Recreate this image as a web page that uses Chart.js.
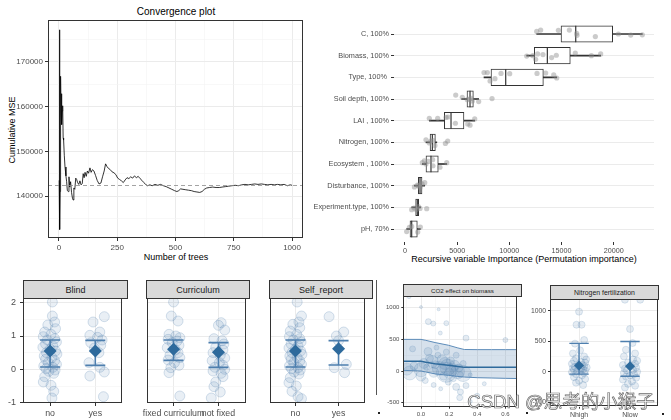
<!DOCTYPE html>
<html><head><meta charset="utf-8">
<script src="https://cdn.jsdelivr.net/npm/chart.js@4.4.1/dist/chart.umd.min.js"></script>
<style>
html,body{margin:0;padding:0;background:#fff;}
#wrap{position:relative;width:671px;height:420px;overflow:hidden;font-family:'Liberation Sans',Arial,sans-serif;background:#fff;}
canvas{position:absolute;}
.t{position:absolute;transform:translate(-50%,-50%);white-space:nowrap;color:#000;}
.strip{position:absolute;box-sizing:border-box;background:#D9D9D9;border:1px solid #333;color:#1A1A1A;display:flex;align-items:center;justify-content:center;white-space:nowrap;}
.dot{position:absolute;width:2px;height:2px;background:#222;}
</style></head><body><div id="wrap">
<div class="t" style="left:176px;top:11px;font-size:10px;">Convergence plot</div>
<div class="t" style="left:12px;top:130px;font-size:9px;transform:translate(-50%,-50%) rotate(-90deg);">Cumulative MSE</div>
<div class="t" style="left:176px;top:257px;font-size:9px;">Number of trees</div>
<div class="t" style="left:524px;top:259px;font-size:9px;">Recursive variable Importance (Permutation importance)</div>
<div class="strip" style="left:23px;top:280px;width:105px;height:19px;font-size:9px;">Blind</div>
<div class="strip" style="left:146px;top:280px;width:104px;height:19px;font-size:9px;">Curriculum</div>
<div class="strip" style="left:269px;top:280px;width:104px;height:19px;font-size:9px;">Self_report</div>
<div class="strip" style="left:403px;top:284px;width:119px;height:13px;font-size:6.2px;">CO2 effect on biomass</div>
<div class="strip" style="left:550px;top:285px;width:109px;height:15px;font-size:6.9px;">Nitrogen fertilization</div>
<div style="position:absolute;left:376px;top:280px;width:1px;height:115px;background:#555;"></div>
<div class="dot" style="left:378px;top:412px;"></div>
<div class="dot" style="left:526px;top:412px;"></div>
<div class="dot" style="left:662px;top:413px;"></div>
</div>
<script>
// ---------------- DATA ----------------
const treesX = [1,2,3,4,5,6,7,8,9,10,11,12,13,14,16,18,20,23,26,30,33,36,40,43,46,50,54,58,61,64,68,72,76,80,85,90,95,100,104,108,112,117,122,127,133,138,144,150,157,164,172,180,187,194,200,206,212,220,228,236,244,252,260,268,276,284,292,300,308,316,324,332,340,348,356,364,372,380,390,400,412,424,436,448,460,472,484,496,506,514,522,532,544,556,568,580,592,604,614,624,634,646,660,674,688,700,714,728,742,756,770,784,798,812,826,840,854,868,882,896,910,924,938,952,966,980,992,1000];
const mseY = [143500,177200,150000,132500,141000,158000,150500,166800,158500,162900,157500,160600,156000,159000,160200,153000,152500,149000,146500,144500,143200,141200,141000,144300,142000,143200,140800,139500,139100,141800,141500,144000,143700,143000,142600,143400,142500,142800,145000,144100,145300,144400,145600,145100,146300,145300,145900,145600,144600,143500,142700,142900,144300,145600,147200,146600,146200,145900,145400,145200,144800,144000,143700,143400,143000,143600,144100,143900,144300,144000,144500,144100,144400,143900,143500,143000,142600,142300,142500,142300,142600,142400,142600,142300,142100,141800,141500,141200,141000,141200,141600,141500,141400,141300,141200,141000,140900,140800,141000,141500,141800,141900,142000,141900,141900,142000,142100,142200,142300,142400,142300,142500,142600,142500,142600,142700,142600,142700,142600,142500,142600,142500,142600,142500,142600,142300,142500,142400];
const mseRef = 142400;
const convXTicks = [0,125,250,375,500,625,750,875,1000];
const convYTicks = [135000,140000,145000,150000,155000,160000,165000,170000,175000];

const impVars = ['C, 100%','Biomass, 100%','Type, 100% ','Soil depth, 100%','LAI , 100%','Nitrogen, 100%','Ecosystem , 100%','Disturbance, 100%','Experiment.type, 100%','pH, 70%'];
const impQ1  = [14950,12390,8240,5940,3770,2400,2010,1280,1020,480];
const impMed = [16360,13640,9650,6230,4410,2620,2490,1440,1180,640];
const impQ3  = [19900,15840,13260,6550,5650,2910,3190,1630,1310,1180];
const impLo  = [12620,11660,7570,5430,2330,2010,1660,900,640,160];
const impHi  = [22740,18750,14540,7060,6680,3050,4000,1890,1500,1470];
const impPts = [
  [12620,13000,14700,15750,16450,16480,18240,20450,21630,22740],
  [11660,12250,12520,12710,13220,14050,14500,16320,17860,18750],
  [7570,7890,8150,8620,9200,10030,12650,13480,14250,14540],
  [4860,5490,5970,6160,6350,6450,7060,8340],
  [2330,3130,3930,4120,4830,6010,6230,6680],
  [2010,2330,2460,2720,2870,3870,4090],
  [1660,1850,2010,2240,2650,2680,3350,4000],
  [900,1190,1280,1440,1630,1890],
  [640,870,1090,1280,1440,2080],
  [160,420,640,1220,1470]
];
const impJit = [
  [-0.12,-0.18,-0.17,-0.18,-0.03,0.06,0.12,0.0,0.05,0.04],
  [0.02,0.0,0.17,-0.08,-0.05,0.09,-0.02,-0.12,0.0,-0.08],
  [-0.22,-0.22,0.17,0.06,-0.18,-0.17,-0.18,-0.2,-0.11,0.03],
  [-0.18,-0.08,0.03,0.0,-0.03,0.09,0.12,-0.02],
  [-0.11,-0.11,-0.15,-0.17,0.12,0.15,0.21,-0.08],
  [-0.12,0.03,-0.06,-0.08,0.15,0.05,-0.06],
  [-0.06,-0.15,0.0,-0.12,-0.2,0.08,0.15,-0.06],
  [0.06,-0.03,0.0,0.08,-0.08,-0.14],
  [0.11,0.03,0.11,-0.03,0.05,0.06],
  [0.12,-0.08,-0.12,0.14,-0.09]
];
const impXTicks = [0,5000,10000,15000,20000];

const facetYTicks = [-1,-0.5,0,0.5,1,1.5,2];
const blindCats = ['no','yes'];
const blindNo  = [2.02,1.6,1.42,1.33,1.22,1.12,1.05,0.98,0.92,0.88,0.82,0.76,0.7,0.66,0.6,0.55,0.5,0.46,0.4,0.35,0.3,0.26,0.2,0.15,0.1,0.06,0.02,-0.02,-0.06,-0.12,-0.22,-0.38,-0.48,-0.66,-0.86];
const blindNoJ = [0.05,0.05,0.1,-0.05,0.12,-0.12,0.02,-0.15,0.1,-0.06,0.14,-0.1,0.06,-0.16,0.0,0.12,-0.08,0.15,-0.13,0.04,-0.1,0.1,-0.04,0.14,-0.14,0.06,-0.09,0.11,-0.03,0.08,-0.12,-0.15,0.02,0.08,0.04];
const blindYes  = [1.58,1.42,1.12,1.02,0.96,0.88,0.8,0.72,0.64,0.5,0.2,0.06,-0.08,-0.2,-0.82];
const blindYesJ = [0.2,-0.05,0.1,-0.12,0.05,0.15,-0.1,0.12,-0.02,0.08,-0.14,0.1,0.2,-0.12,0.18];
const blindMean = [0.55,0.55], blindLo = [0.07,0.12], blindHi = [0.88,0.87];

const currCats = ['fixed curriculum','not fixed'];
const currFixed  = [2.02,1.6,1.45,1.05,1.0,0.95,0.9,0.85,0.8,0.72,0.65,0.58,0.5,0.42,0.35,0.28,0.2,0.12,0.05,-0.1,-0.8];
const currFixedJ = [0.0,-0.05,0.1,-0.1,0.05,0.14,-0.12,0.08,-0.03,0.12,-0.14,0.04,0.1,-0.08,0.14,-0.12,0.02,0.12,-0.06,-0.1,0.14];
const currNot  = [1.4,1.32,1.18,0.92,0.86,0.76,0.66,0.58,0.5,0.42,0.34,0.26,0.2,0.12,0.06,0.0,-0.05,-0.12,-0.22,-0.38,-0.52,-0.68,-0.86];
const currNotJ = [0.06,0.0,0.14,-0.1,0.08,0.12,-0.06,0.1,-0.12,0.04,0.14,-0.14,0.02,0.1,-0.08,0.14,-0.12,0.06,0.1,-0.06,-0.1,0.04,-0.16];
const currMean = [0.6,0.51], currLo = [0.27,0.06], currHi = [0.88,0.8];

const selfCats = ['no','yes'];
const selfNo  = [2.02,1.6,1.42,1.35,1.25,1.15,1.05,0.98,0.92,0.88,0.82,0.76,0.7,0.64,0.6,0.55,0.5,0.45,0.4,0.35,0.3,0.25,0.2,0.15,0.1,0.05,0.02,-0.02,-0.08,-0.14,-0.25,-0.4,-0.5,-0.66,-0.82,-0.88];
const selfNoJ = [0.04,0.14,0.08,-0.06,0.1,-0.12,0.03,-0.14,0.1,-0.05,0.13,-0.1,0.06,-0.15,0.0,0.12,-0.08,0.15,-0.13,0.04,-0.1,0.1,-0.04,0.14,-0.14,0.06,-0.09,0.11,-0.03,0.08,-0.12,-0.15,0.02,-0.08,0.06,0.14];
const selfYes  = [1.58,1.12,1.0,0.86,0.15,0.05,-0.1];
const selfYesJ = [-0.22,0.12,-0.05,0.0,0.18,-0.1,0.14];
const selfMean = [0.55,0.62], selfLo = [0.07,0.13], selfHi = [0.88,0.86];

const co2BandX = [-0.126,0.0,0.034,0.1,0.194,0.262,0.308,0.4,0.5,0.6,0.684];
const co2Upper = [500,500,485,450,408,365,340,338,338,338,338];
const co2Mid   = [154,154,140,117,90,70,58,58,58,58,58];
const co2Lower = [11,0,-15,-45,-68,-85,-95,-105,-110,-115,-118];
const co2PX = [-0.085,0.0,0.125,0.052,0.087,0.18,0.137,0.32,0.6,-0.1,-0.05,0.0,0.02,0.04,0.06,0.08,0.09,0.1,0.12,0.13,0.15,0.16,0.17,0.18,0.19,0.2,0.21,0.22,0.23,0.24,0.25,0.26,0.27,0.28,0.3,0.35,0.194,0.32,0.4,0.275,0.03,0.09,0.25,-0.06,0.11,0.28,0.45,0.05,0.0,0.14,0.3,0.18,-0.08,0.35];
const co2PY = [1175,1010,975,780,750,756,600,520,490,30,80,20,120,60,200,150,-20,100,250,40,180,-80,120,300,60,-40,160,20,-120,90,250,-10,50,-60,120,-60,-175,-230,-390,-420,-150,-220,-250,350,370,-330,-200,310,-80,-280,-40,-20,-30,-480];
const co2PR = [2,1.5,1.5,3,2.5,2.5,2,3,2.5,6,4,7,5,3,4,6,5,4,3,7,5,4,6,3,8,5,4,6,3,5,3,7,4,3,3,2,3,3,2.5,3,3,2.5,3.5,3,2.5,3,2,4,5,2,8,10,7,2];
const co2XTicks = [-0.1,0,0.1,0.2,0.3,0.4,0.5,0.6];
const co2YTicks = [-500,-250,0,250,500,750,1000];

const nitroCats = ['Nhigh','Nlow'];
const nHigh  = [984,770,770,520,460,350,300,250,220,200,180,160,150,130,110,100,90,80,70,60,50,40,30,20,10,0,-10,-20,-40,-60,-90,-120,-150,-180,-220];
const nHighJ = [0.0,-0.05,0.05,0.1,-0.08,0.02,-0.12,0.1,-0.06,0.14,-0.1,0.04,0.12,-0.14,0.06,-0.02,0.1,-0.08,0.15,-0.12,0.04,0.08,-0.1,0.12,-0.04,0.02,-0.14,0.1,-0.06,0.06,-0.1,0.12,0.0,-0.06,0.08];
const nLow  = [1180,1180,700,470,360,300,250,200,180,150,130,110,90,70,50,30,20,0,-20,-40,-60,-80,-100,-130,-160,-200,-230,-260];
const nLowJ = [-0.1,0.2,0.0,0.05,-0.08,0.1,-0.12,0.06,0.14,-0.04,0.1,-0.14,0.02,0.12,-0.1,0.06,-0.06,0.14,-0.12,0.08,0.0,-0.08,0.12,-0.14,0.04,-0.04,0.1,-0.1];
const nMean = [100,90], nLo = [-40,-75], nHi = [465,495];
const nitroYTicks = [-500,-250,0,250,500,750,1000];

// ---------------- SETUP ----------------
Chart.defaults.font.family = "'Liberation Sans', Arial, sans-serif";
Chart.defaults.color = '#4D4D4D';
Chart.defaults.animation = false;
Chart.defaults.plugins.legend.display = false;
Chart.defaults.plugins.tooltip.enabled = false;

Chart.register({
  id: 'frame',
  afterDraw(chart, args, opts) {
    if (!opts || !opts.color) return;
    const a = chart.chartArea, ctx = chart.ctx;
    ctx.save(); ctx.strokeStyle = opts.color; ctx.lineWidth = 1;
    ctx.strokeRect(Math.round(a.left) + 0.5, Math.round(a.top) + 0.5, Math.round(a.right - a.left) - 1, Math.round(a.bottom - a.top) - 1);
    ctx.restore();
  }
});
Chart.register({
  id: 'refline',
  afterDatasetsDraw(chart, args, opts) {
    if (!opts || opts.value == null) return;
    const a = chart.chartArea, ctx = chart.ctx;
    const y = Math.round(chart.scales.y.getPixelForValue(opts.value)) + 0.5;
    ctx.save(); ctx.strokeStyle = '#8C8C8C'; ctx.lineWidth = 0.8; ctx.setLineDash([4, 3]);
    ctx.beginPath(); ctx.moveTo(a.left, y); ctx.lineTo(a.right, y); ctx.stroke(); ctx.restore();
  }
});

const wrap = document.getElementById('wrap');
function mk(left, top, w, h) {
  const c = document.createElement('canvas');
  c.width = w; c.height = h;
  c.style.left = left + 'px'; c.style.top = top + 'px';
  c.style.width = w + 'px'; c.style.height = h + 'px';
  wrap.appendChild(c);
  return c;
}
function fitX(h) { return s => { s.height = h; s.paddingLeft = 0; s.paddingRight = 0; }; }
function fitY(w) { return s => { s.width = w; s.paddingTop = 0; s.paddingBottom = 0; }; }
function setTicks(arr) { return s => { s.ticks = arr.map(v => ({ value: v })); }; }

// ---------------- CONVERGENCE ----------------
(function () {
  const cl = 0, ct = 0, W = 305, H = 270;
  const L = 48, T = 20, R = 303, B = 238;
  const isMajX = v => v % 250 === 0, isMajY = v => v % 10000 === 0;
  new Chart(mk(cl, ct, W, H), {
    type: 'scatter',
    data: { datasets: [{
      type: 'line', data: treesX.map((x, i) => ({ x, y: mseY[i] })),
      borderColor: '#000', borderWidth: 0.8, pointRadius: 0, tension: 0
    }] },
    options: {
      responsive: false, devicePixelRatio: 1,
      layout: { padding: { left: 0, top: T - ct, right: W - (R - cl), bottom: 0 } },
      plugins: { frame: { color: '#333' }, refline: { value: mseRef } },
      scales: {
        x: { type: 'linear', min: -47, max: 1047, afterBuildTicks: setTicks(convXTicks), afterFit: fitX(H - (B - ct)),
          border: { display: false },
          grid: { color: c => isMajX(c.tick.value) ? '#EBEBEB' : '#F4F4F4', lineWidth: c => isMajX(c.tick.value) ? 1 : 0.6,
                  tickColor: c => isMajX(c.tick.value) ? '#333' : 'rgba(0,0,0,0)', tickLength: 3 },
          ticks: { autoSkip: false, maxRotation: 0, padding: 2, font: { size: 8 }, color: '#4D4D4D', callback: v => isMajX(v) ? String(v) : '' } },
        y: { type: 'linear', min: 130600, max: 179400, afterBuildTicks: setTicks(convYTicks), afterFit: fitY(L - cl),
          border: { display: false },
          grid: { color: c => isMajY(c.tick.value) ? '#EBEBEB' : '#F4F4F4', lineWidth: c => isMajY(c.tick.value) ? 1 : 0.6,
                  tickColor: c => isMajY(c.tick.value) ? '#333' : 'rgba(0,0,0,0)', tickLength: 3 },
          ticks: { autoSkip: false, padding: 2, font: { size: 8 }, color: '#4D4D4D', callback: v => isMajY(v) ? String(v) : '' } }
      }
    }
  });
})();

// ---------------- IMPORTANCE ----------------
(function () {
  const cl = 305, ct = 0, W = 366, H = 270;
  const L = 394, T = 21, R = 654, B = 242;
  const pts = [];
  impPts.forEach((arr, i) => arr.forEach((v, j) => pts.push({ x: v, y: i + impJit[i][j] })));
  new Chart(mk(cl, ct, W, H), {
    type: 'bar',
    data: { datasets: [
      { type: 'scatter', data: pts, pointRadius: 2.6, backgroundColor: 'rgba(140,140,140,0.45)', borderWidth: 0, order: 0 },
      { type: 'scatter', data: impMed.map((m, i) => ({ x: m, y: i })), pointStyle: 'line', rotation: 90, pointRadius: 8.2,
        borderColor: '#333', borderWidth: 1.2, order: 1 },
      { type: 'bar', data: impQ1.map((q, i) => ({ y: i, x: [q, impQ3[i]] })), backgroundColor: '#FFFFFF', borderColor: '#333',
        borderWidth: 1, borderSkipped: false, barThickness: 16.5, grouped: false, order: 2 },
      { type: 'bar', data: impLo.map((q, i) => ({ y: i, x: [q, impHi[i]] })), backgroundColor: '#333', borderWidth: 0,
        barThickness: 1, grouped: false, order: 3 }
    ] },
    options: {
      indexAxis: 'y', responsive: false, devicePixelRatio: 1,
      layout: { padding: { left: 0, top: T - ct, right: W - (R - cl), bottom: 0 } },
      scales: {
        x: { type: 'linear', offset: false, min: -1054, max: 23860, afterBuildTicks: setTicks(impXTicks), afterFit: fitX(H - (B - ct)),
          border: { display: false }, grid: { offset: false, drawOnChartArea: false, tickColor: '#333', tickLength: 3 },
          ticks: { autoSkip: false, maxRotation: 0, padding: 2, font: { size: 7.2 }, color: '#4D4D4D', callback: v => String(v) } },
        y: { type: 'linear', offset: false, reverse: true, min: -0.6, max: 9.6, afterBuildTicks: setTicks(impVars.map((v, i) => i)), afterFit: fitY(L - cl),
          border: { display: false }, grid: { offset: false, color: '#EBEBEB', lineWidth: 1, tickColor: '#333', tickLength: 3 },
          ticks: { autoSkip: false, padding: 2, font: { size: 7.3 }, color: '#4D4D4D', callback: v => impVars[v] } }
      }
    }
  });
})();

// ---------------- FACETS ----------------
function facet(cl, W, L, R, cats, groups, jits, means, los, his, showY) {
  const ct = 276, H = 144, T = 298, B = 403;
  const col = 'rgba(70,120,170,';
  const ds = [];
  groups.forEach((g, k) => {
    ds.push({ type: 'scatter', data: g.map((v, j) => ({ x: k + 1 + jits[k][j], y: v })), pointRadius: 5,
      backgroundColor: col + '0.12)', borderColor: col + '0.22)', borderWidth: 1, order: 4 });
    ds.push({ type: 'line', data: [{ x: k + 1, y: los[k] }, { x: k + 1, y: his[k] }], borderColor: '#4E7FAE', borderWidth: 1.6,
      pointRadius: 0, order: 2 });
  });
  ds.push({ type: 'scatter', data: cats.flatMap((c, k) => [{ x: k + 1, y: los[k] }, { x: k + 1, y: his[k] }]), pointStyle: 'line',
    pointRadius: 10, borderColor: '#4E7FAE', borderWidth: 1.6, order: 1 });
  ds.push({ type: 'scatter', data: means.map((m, k) => ({ x: k + 1, y: m })), pointStyle: 'rectRot', pointRadius: 6.5,
    backgroundColor: '#2E6A9C', borderWidth: 0, order: 0 });
  const isMaj = v => Number.isInteger(v);
  new Chart(mk(cl, ct, W, H), {
    type: 'scatter',
    data: { datasets: ds },
    options: {
      responsive: false, devicePixelRatio: 1,
      layout: { padding: { left: 0, top: T - ct, right: W - (R - cl), bottom: 0 } },
      plugins: { frame: { color: '#333' } },
      scales: {
        x: { type: 'linear', min: 0.4, max: 2.6, afterBuildTicks: setTicks([1, 2]), afterFit: fitX(H - (B - ct)),
          border: { display: false }, grid: { color: '#EBEBEB', tickColor: '#333', tickLength: 3 },
          ticks: { autoSkip: false, maxRotation: 0, padding: 2, font: { size: 8.8 }, color: '#4D4D4D', callback: v => cats[v - 1] } },
        y: { type: 'linear', min: -1.01, max: 2.14, afterBuildTicks: setTicks(facetYTicks), afterFit: fitY(L - cl),
          border: { display: false },
          grid: { color: c => isMaj(c.tick.value) ? '#EBEBEB' : '#F4F4F4', lineWidth: c => isMaj(c.tick.value) ? 1 : 0.6,
                  tickColor: c => (showY && isMaj(c.tick.value)) ? '#333' : 'rgba(0,0,0,0)', tickLength: showY ? 3 : 0, drawTicks: showY },
          ticks: { display: showY, autoSkip: false, padding: 4, font: { size: 9 }, color: '#4D4D4D', callback: v => isMaj(v) ? String(v) : '' } }
      }
    }
  });
}
facet(0, 134, 23, 128, blindCats, [blindNo, blindYes], [blindNoJ, blindYesJ], blindMean, blindLo, blindHi, true);
facet(135, 122, 145.7, 250, currCats, [currFixed, currNot], [currFixedJ, currNotJ], currMean, currLo, currHi, false);
facet(258, 118, 269, 373, selfCats, [selfNo, selfYes], [selfNoJ, selfYesJ], selfMean, selfLo, selfHi, false);

// ---------------- CO2 ----------------
(function () {
  const cl = 378, ct = 276, W = 150, H = 144;
  const L = 403.3, T = 296, R = 521.7, B = 406.7;
  const col = 'rgba(70,120,170,';
  const isMajX = v => Math.abs(Math.round(v * 10)) % 2 === 0, isMajY = v => v % 500 === 0;
  new Chart(mk(cl, ct, W, H), {
    type: 'scatter',
    data: { datasets: [
      { type: 'scatter', data: co2PX.map((x, i) => ({ x, y: co2PY[i] })), pointRadius: c => co2PR[c.dataIndex],
        backgroundColor: col + '0.14)', borderColor: col + '0.22)', borderWidth: 0.8, order: 3 },
      { type: 'line', data: co2BandX.map((x, i) => ({ x, y: co2Upper[i] })), borderColor: '#5D8CB9', borderWidth: 1,
        backgroundColor: col + '0.22)', fill: '+1', pointRadius: 0, tension: 0, order: 2 },
      { type: 'line', data: co2BandX.map((x, i) => ({ x, y: co2Lower[i] })), borderColor: '#5D8CB9', borderWidth: 1,
        pointRadius: 0, tension: 0, fill: false, order: 2 },
      { type: 'line', data: co2BandX.map((x, i) => ({ x, y: co2Mid[i] })), borderColor: '#2E6A9C', borderWidth: 1.5,
        pointRadius: 0, tension: 0, fill: false, order: 1 }
    ] },
    options: {
      responsive: false, devicePixelRatio: 1,
      layout: { padding: { left: 0, top: T - ct, right: W - (R - cl), bottom: 0 } },
      plugins: { frame: { color: '#333' } },
      scales: {
        x: { type: 'linear', min: -0.126, max: 0.684, afterBuildTicks: setTicks(co2XTicks), afterFit: fitX(H - (B - ct)),
          border: { display: false },
          grid: { color: c => isMajX(c.tick.value) ? '#EBEBEB' : '#F4F4F4', lineWidth: c => isMajX(c.tick.value) ? 1 : 0.6,
                  tickColor: c => isMajX(c.tick.value) ? '#333' : 'rgba(0,0,0,0)', tickLength: 2 },
          ticks: { autoSkip: false, maxRotation: 0, padding: 2, font: { size: 6 }, color: '#4D4D4D', callback: v => isMajX(v) ? v.toFixed(1) : '' } },
        y: { type: 'linear', min: -563, max: 1185, afterBuildTicks: setTicks(co2YTicks), afterFit: fitY(L - cl),
          border: { display: false },
          grid: { color: c => isMajY(c.tick.value) ? '#EBEBEB' : '#F4F4F4', lineWidth: c => isMajY(c.tick.value) ? 1 : 0.6,
                  tickColor: c => isMajY(c.tick.value) ? '#333' : 'rgba(0,0,0,0)', tickLength: 2 },
          ticks: { autoSkip: false, padding: 2, font: { size: 6 }, color: '#4D4D4D', callback: v => isMajY(v) ? String(v) : '' } }
      }
    }
  });
})();

// ---------------- NITROGEN ----------------
(function () {
  const cl = 530, ct = 276, W = 141, H = 144;
  const L = 550, T = 299.3, R = 658.3, B = 406.7;
  const col = 'rgba(70,120,170,';
  const isMajY = v => v % 500 === 0;
  const groups = [nHigh, nLow], jits = [nHighJ, nLowJ];
  const ds = [];
  groups.forEach((g, k) => {
    ds.push({ type: 'scatter', data: g.map((v, j) => ({ x: k + 1 + jits[k][j], y: v })), pointRadius: 3.5,
      backgroundColor: col + '0.14)', borderColor: col + '0.22)', borderWidth: 0.8, order: 4 });
    ds.push({ type: 'line', data: [{ x: k + 1, y: nLo[k] }, { x: k + 1, y: nHi[k] }], borderColor: '#4E7FAE', borderWidth: 1.4,
      pointRadius: 0, order: 2 });
  });
  ds.push({ type: 'scatter', data: nitroCats.flatMap((c, k) => [{ x: k + 1, y: nLo[k] }, { x: k + 1, y: nHi[k] }]), pointStyle: 'line',
    pointRadius: 9.7, borderColor: '#4E7FAE', borderWidth: 1.4, order: 1 });
  ds.push({ type: 'scatter', data: nMean.map((m, k) => ({ x: k + 1, y: m })), pointStyle: 'rectRot', pointRadius: 5,
    backgroundColor: '#2E6A9C', borderWidth: 0, order: 0 });
  new Chart(mk(cl, ct, W, H), {
    type: 'scatter',
    data: { datasets: ds },
    options: {
      responsive: false, devicePixelRatio: 1,
      layout: { padding: { left: 0, top: T - ct, right: W - (R - cl), bottom: 0 } },
      plugins: { frame: { color: '#333' } },
      scales: {
        x: { type: 'linear', min: 0.43, max: 2.555, afterBuildTicks: setTicks([1, 2]), afterFit: fitX(H - (B - ct)),
          border: { display: false }, grid: { color: '#EBEBEB', tickColor: '#333', tickLength: 2 },
          ticks: { autoSkip: false, maxRotation: 0, padding: 2, font: { size: 7 }, color: '#4D4D4D', callback: v => nitroCats[v - 1] } },
        y: { type: 'linear', min: -574, max: 1187, afterBuildTicks: setTicks(nitroYTicks), afterFit: fitY(L - cl),
          border: { display: false },
          grid: { color: c => isMajY(c.tick.value) ? '#EBEBEB' : '#F4F4F4', lineWidth: c => isMajY(c.tick.value) ? 1 : 0.6,
                  tickColor: c => isMajY(c.tick.value) ? '#333' : 'rgba(0,0,0,0)', tickLength: 2 },
          ticks: { autoSkip: false, padding: 2, font: { size: 6.8 }, color: '#4D4D4D', callback: v => isMajY(v) ? String(v) : '' } }
      }
    }
  });
})();

// watermark
const wm = document.createElement('div');
wm.className = 't';
wm.textContent = 'CSDN @思考的小猴子';
wm.style.cssText = "left:561px;top:400px;font-size:18.5px;font-family:'Liberation Sans','Noto Sans CJK SC',sans-serif;color:rgba(255,255,255,0.85);-webkit-text-stroke:0.7px rgba(80,80,80,0.85);";
wrap.appendChild(wm);
</script>
</body></html>
